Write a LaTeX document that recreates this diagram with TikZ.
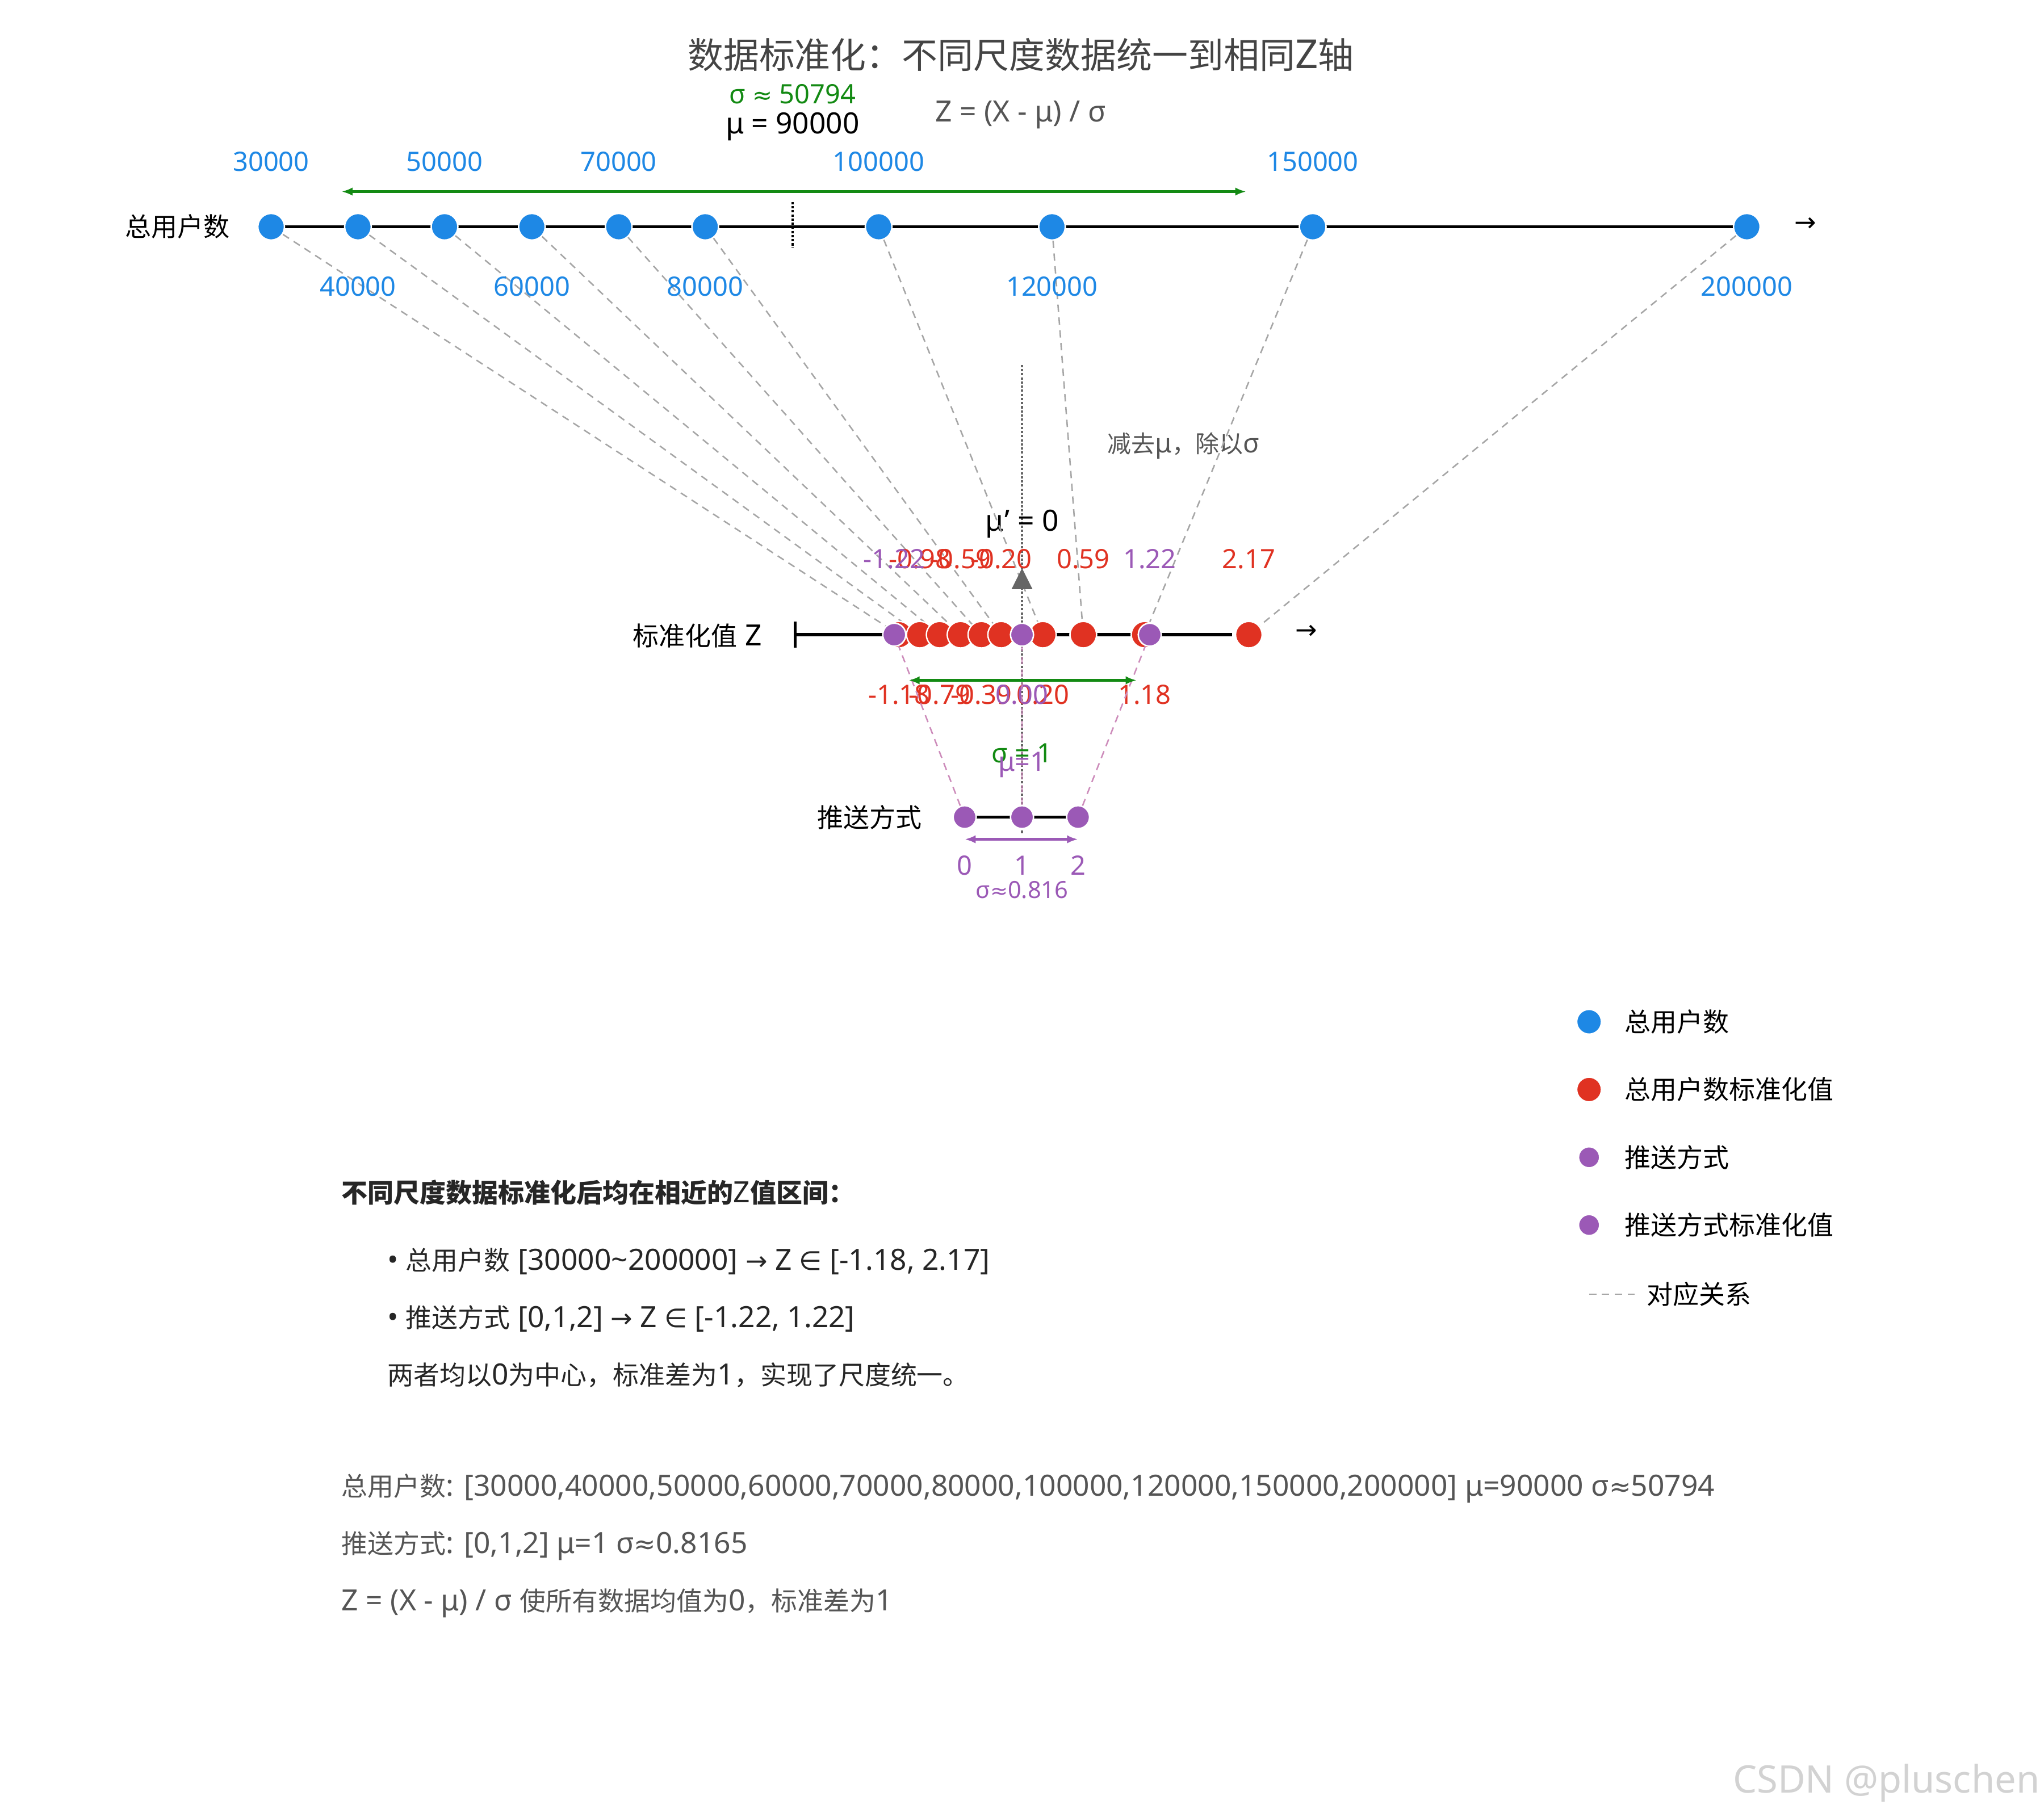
\documentclass[tikz,border=0pt]{standalone}
\usepackage{fontspec}
\setmainfont{Noto Sans}[Scale=1.12]
\newfontfamily\cjk{Noto Sans CJK SC}
\newfontfamily\sym{DejaVu Sans}
\usetikzlibrary{arrows.meta}
\definecolor{cblue}{HTML}{1E88E5}
\definecolor{cred}{HTML}{E03222}
\definecolor{cpur}{HTML}{9B59B6}
\definecolor{cgreen}{HTML}{138A13}
\definecolor{cgray}{HTML}{555555}
\begin{document}
\begin{tikzpicture}[x=0.05cm,y=-0.05cm,
  lab/.style={font=\fontsize{26}{32}\selectfont, inner sep=0pt},
  big/.style={font=\fontsize{28.5}{34}\selectfont, inner sep=0pt},
  dot/.style={circle, minimum size=#1, inner sep=0pt, draw=white, line width=1.5pt},
  bdot/.style={dot=29, fill=cblue},
  rdot/.style={dot=29, fill=cred},
  pdot/.style={dot=25, fill=cpur},
  conn/.style={draw=gray!70, line width=1.6pt, dash pattern=on 8pt off 6pt},
  pconn/.style={draw=cpur!50!pink, line width=1.6pt, dash pattern=on 8pt off 6pt},
  axis/.style={line width=3.5pt, black},
  brk/.style={line width=3pt, {Latex[length=12pt]}-{Latex[length=12pt]}}]
\useasboundingbox (0,0) rectangle (1568,1394);
% title
\node[font=\fontsize{39}{44}\selectfont, text=cgray!80!black] (title) at (783,42) {{\cjk 数据标准化：不同尺度数据统一到相同}Z{\cjk 轴}};
\node[lab, text=cgreen] (sig) at (608,72) {σ {\sym ≈} 50794};
\node[big] (mu) at (608,97) {μ = 90000};
\node[big, text=cgray] (form) at (783,88) {Z = (X - μ) / σ};
% top axis
\node[big] (ltop) at (136,174) {\cjk 总用户数};
\coordinate (ta) at (208,174); \coordinate (tb) at (1340,174);
\draw[axis] (ta) -- (tb);
\node[big] (arr1) at (1385,172) {\sym →};
\coordinate (m1) at (608,155); \coordinate (m2) at (608,190);
\draw[dotted, line width=2.5pt] (m1) -- (m2);
\coordinate (g1) at (262,147); \coordinate (g2) at (956,147);
\draw[brk, cgreen] (g1) -- (g2);
% z axis
\node[big] (lz) at (535,488) {{\cjk 标准化值} Z};
\coordinate (za) at (610,487); \coordinate (zb) at (945,487);
\draw[axis] (za) -- (zb);
\coordinate (zt) at (610,477); \coordinate (zbb) at (610,497);
\draw[axis] (zt) -- (zbb);
\node[big] (arr2) at (1002,485) {\sym →};
% push axis
\node[big] (lp) at (667,627) {\cjk 推送方式};
\coordinate (pa) at (740,627); \coordinate (pb) at (827,627);
\draw[axis] (pa) -- (pb);
% center dotted line
\coordinate (c1) at (784,280); \coordinate (c2) at (784,640);
\draw[dotted, line width=2.5pt, gray!80!black] (c1) -- (c2);
\node[big] (mup) at (784,402) {μ' = 0};
\node[lab, text=cgray] (sub) at (908,342) {{\cjk 减去}μ{\cjk ，除以}σ};
% top points and z points
\foreach \i/\x/\v/\z/\zt/\pos in {0/208/30000/689.6/-1.18/b,1/274.6/40000/705.6/-0.98/a,2/341/50000/720.8/-0.79/b,3/408/60000/736.8/-0.59/a,4/474.6/70000/752.8/-0.39/b,5/541/80000/768/-0.20/a,6/674/100000/800/0.20/b,7/807/120000/831/0.59/a,8/1007/150000/878/1.18/b,9/1340/200000/958/2.17/a}{
  \node[bdot] (t\i) at (\x,174) {};
  \node[rdot] (z\i) at (\z,487) {};
}
\foreach \i in {0,...,9}{ \draw[conn] (t\i) -- (z\i); }
\foreach \i/\x/\v/\z/\zt/\pos in {0/208/30000/689.6/-1.18/b,1/274.6/40000/705.6/-0.98/a,2/341/50000/720.8/-0.79/b,3/408/60000/736.8/-0.59/a,4/474.6/70000/752.8/-0.39/b,5/541/80000/768/-0.20/a,6/674/100000/800/0.20/b,7/807/120000/831/0.59/a,8/1007/150000/878/1.18/b,9/1340/200000/958/2.17/a}{
  \node[bdot] at (t\i) {};
  \node[rdot] at (z\i) {};
  \if\pos a
    \node[lab, text=cblue] (tl\i) at (\x,220) {\v};
    \node[lab, text=cred] (zl\i) at (\z,429) {\zt};
  \else
    \node[lab, text=cblue] (tl\i) at (\x,124) {\v};
    \node[lab, text=cred] (zl\i) at (\z,533) {\zt};
  \fi
}
% purple z points and push points
\foreach \j/\z/\p/\zt/\yy in {0/686/740/-1.22/429,1/784/784/0.00/533,2/882/827/1.22/429}{
  \node[pdot] (q\j) at (\z,487) {};
  \node[pdot] (p\j) at (\p,627) {};
  \node[lab, text=cpur] (ql\j) at (\z,\yy) {\zt};
  \node[lab, text=cpur] (pl\j) at (\p,664) {\j};
  \draw[pconn] (p\j) -- (q\j);
}
\foreach \j in {0,1,2}{ \node[pdot] at (q\j) {}; \node[pdot] at (p\j) {}; }
\fill[gray!80!black] (784,436) -- (776,452) -- (792,452) -- cycle;
% z brackets
\coordinate (h1) at (697,522); \coordinate (h2) at (872,522);
\draw[brk, cgreen] (h1) -- (h2);
\node[lab, text=cgreen] (s1) at (784,578) {σ = 1};
\node[lab, text=cpur] (mu1) at (784,587) {μ=1};
\coordinate (k1) at (740,644); \coordinate (k2) at (827,644);
\draw[brk, cpur] (k1) -- (k2);
\node[font=\fontsize{23}{27}\selectfont, inner sep=0pt, text=cpur] (s2) at (784,683) {σ{\sym ≈}0.816};
% legend
\node[dot=27, fill=cblue] (L1) at (1219,784) {};
\node[dot=27, fill=cred] (L2) at (1219,836) {};
\node[dot=23, fill=cpur] (L3) at (1219,888) {};
\node[dot=23, fill=cpur] (L4) at (1219,940) {};
\node[big, anchor=west] (LT1) at (1246,784) {\cjk 总用户数};
\node[big, anchor=west] (LT2) at (1246,836) {\cjk 总用户数标准化值};
\node[big, anchor=west] (LT3) at (1246,888) {\cjk 推送方式};
\node[big, anchor=west] (LT4) at (1246,940) {\cjk 推送方式标准化值};
\coordinate (d1) at (1219,993); \coordinate (d2) at (1255,993);
\draw[conn] (d1) -- (d2);
\node[big, anchor=west] (LT5) at (1263,993) {\cjk 对应关系};
% text block
\node[big, anchor=west, font=\fontsize{28.5}{34}\bfseries\selectfont, text=black!85] (tb1) at (262,915) {{\cjk\bfseries 不同尺度数据标准化后均在相近的}Z{\cjk\bfseries 值区间：}};
\node[big, anchor=west, text=black!85] (tb2) at (297,968) {• {\cjk 总用户数} [30000\textasciitilde 200000] {\sym →} Z {\sym ∈} [-1.18, 2.17]};
\node[big, anchor=west, text=black!85] (tb3) at (297,1012) {• {\cjk 推送方式} [0,1,2] {\sym →} Z {\sym ∈} [-1.22, 1.22]};
\node[big, anchor=west, text=black!85] (tb4) at (297,1055) {{\cjk 两者均以}0{\cjk 为中心，标准差为}1{\cjk ，实现了尺度统一。}};
\node[big, anchor=west, text=cgray] (tb5) at (262,1142) {{\cjk 总用户数}: [30000,40000,50000,60000,70000,80000,100000,120000,150000,200000] μ=90000 σ{\sym ≈}50794};
\node[big, anchor=west, text=cgray] (tb6) at (262,1186) {{\cjk 推送方式}: [0,1,2] μ=1 σ{\sym ≈}0.8165};
\node[big, anchor=west, text=cgray] (tb7) at (262,1230) {Z = (X - μ) / σ {\cjk 使所有数据均值为}0{\cjk ，标准差为}1};
\node[font=\fontsize{37}{42}\selectfont, text=gray!35] (wm) at (1447,1368) {CSDN @pluschen};
\end{tikzpicture}
\end{document}
